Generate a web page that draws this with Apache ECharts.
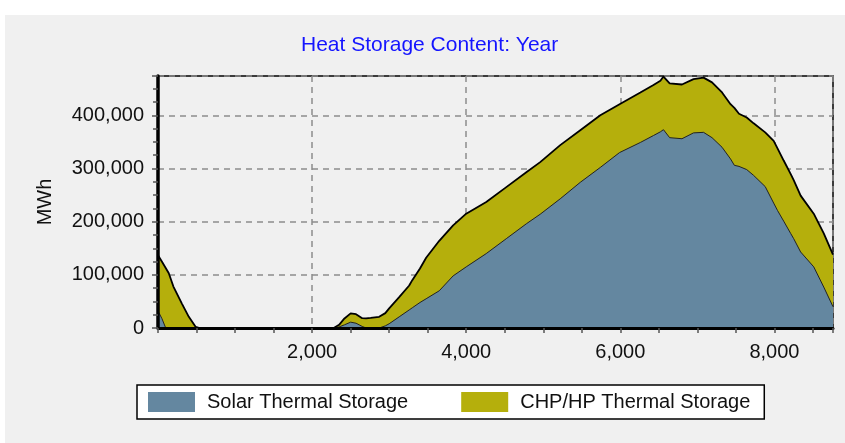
<!DOCTYPE html>
<html>
<head>
<meta charset="utf-8">
<script src="https://cdn.jsdelivr.net/npm/echarts@6/dist/echarts.min.js"></script>
<style>
    html, body { margin: 0; padding: 0; background: #fff; }
    #panel { position: absolute; left: 5px; top: 15px; width: 840px; height: 428px; background: #f0f0f0; }
    #chart { position: absolute; left: 0; top: 0; width: 845px; height: 443px; }
</style>
</head>
<body>
<div id="panel"></div>
<div id="chart"></div>
<script>
// hour of year
const hours = [0, 50, 100, 140, 200, 310, 400, 490, 540, 2280, 2350, 2420, 2500, 2570, 2650, 2700, 2760, 2870, 2950, 3000,
    3130, 3260, 3300, 3400, 3480, 3650, 3830, 4000, 4260, 4520, 4780, 4960, 5220, 5480, 5740, 5990, 6260, 6430, 6520, 6560,
    6640, 6800, 6950, 7080, 7190, 7320, 7430, 7480, 7540, 7640, 7730, 7880, 7990, 8040, 8120, 8210, 8250, 8340, 8510, 8640, 8760];

// MWh
const solar = [32000, 18000, 0, 0, 0, 0, 0, 0, 0, 0, 2000, 6000, 11000, 9000, 3000, 0, 0, 0, 4000, 8000,
    21000, 34000, 38000, 48000, 55000, 70000, 98000, 115000, 140000, 168000, 196000, 214000, 243000, 274000, 302000, 330000, 349000, 362000, 369000, 373000,
    358000, 356000, 367000, 368000, 358000, 340000, 318000, 306000, 304000, 298000, 287000, 266000, 235000, 221000, 201000, 178000, 168000, 143000, 115000, 77000, 40000];

const chp = [105000, 107000, 113000, 103000, 78000, 46000, 21000, 2000, 0, 0, 4000, 12000, 16500, 17000, 15500, 18000, 19000, 21000, 24000, 29000,
    37000, 46000, 52000, 64000, 77000, 94000, 95000, 100000, 97000, 97000, 97000, 98000, 101000, 98000, 98000, 91000, 94000, 95000, 96000, 100000,
    102000, 102000, 101000, 103000, 104000, 103000, 103000, 108000, 99000, 98000, 98000, 102000, 117000, 117000, 114000, 112000, 110000, 106000, 100000, 101000, 98000];

const seriesNames = ['Solar Thermal Storage', 'CHP/HP Thermal Storage'];

const textFont = '"Liberation Sans", Arial, sans-serif';
const tickStyle = { color: '#555', width: 1.5 };
const gridLine = { color: '#8c8c8c', width: 1.5, type: [6, 5] };

// chp sits on top of solar, so its outline is the sum of both
const solarPts = hours.map((h, i) => [h, solar[i]]);
const totalPts = hours.map((h, i) => [h, solar[i] + chp[i]]);

const chart = echarts.init(document.getElementById('chart'));

chart.setOption({
    animation: false,
    backgroundColor: 'transparent',
    title: {
        text: 'Heat Storage Content: Year',
        left: 301,
        top: 35,
        padding: 0,
        textStyle: { color: '#1414ff', fontSize: 21, fontWeight: 'normal', fontFamily: textFont }
    },
    grid: {
        left: 158,
        right: 12,
        top: 76,
        bottom: 115,
        show: true,
        backgroundColor: '#f0f0f0',
        borderColor: '#000',
        borderWidth: 1.5
    },
    legend: {
        data: seriesNames,
        left: 137,
        top: 385,
        icon: 'rect',
        itemWidth: 47,
        itemHeight: 20,
        itemGap: 53,
        padding: [7, 14, 7, 11],
        backgroundColor: '#fff',
        borderColor: '#000',
        borderWidth: 1.5,
        itemStyle: { borderWidth: 0 },
        textStyle: { fontSize: 20, color: '#111', fontFamily: textFont, padding: [0, 0, 0, 7] }
    },
    xAxis: [
        {
            type: 'value',
            min: 0,
            max: 8760,
            interval: 2000,
            z: 10,
            axisLine: { show: true, lineStyle: { color: '#000', width: 3 } },
            axisTick: { show: true, length: 5, lineStyle: tickStyle },
            minorTick: { show: true, splitNumber: 4, length: 5, lineStyle: tickStyle },
            splitLine: { show: false },
            axisLabel: {
                showMinLabel: false,
                showMaxLabel: false,
                margin: 14,
                fontSize: 20,
                color: '#111',
                fontFamily: textFont,
                formatter: (v) => v.toLocaleString('en-US')
            }
        },
        {
            type: 'value',
            min: 0,
            max: 8760,
            interval: 2000,
            z: 0,
            axisLine: { show: false },
            axisTick: { show: false },
            axisLabel: { show: false },
            splitLine: { show: true, lineStyle: gridLine }
        }
    ],
    yAxis: [
        {
            type: 'value',
            min: 0,
            max: 474000,
            interval: 100000,
            z: 10,
            name: 'MWh',
            nameLocation: 'middle',
            nameRotate: 90,
            nameGap: 103,
            nameTextStyle: { fontSize: 20, color: '#111', fontFamily: textFont },
            axisLine: { show: true, lineStyle: { color: '#000', width: 3.5 } },
            axisTick: { show: true, length: 6, lineStyle: tickStyle },
            minorTick: { show: true, splitNumber: 4, length: 5, lineStyle: tickStyle },
            splitLine: { show: false },
            axisLabel: {
                showMaxLabel: false,
                margin: 14,
                fontSize: 20,
                color: '#111',
                fontFamily: textFont,
                formatter: (v) => v.toLocaleString('en-US')
            }
        },
        {
            type: 'value',
            min: 0,
            max: 474000,
            interval: 100000,
            z: 0,
            axisLine: { show: false },
            axisTick: { show: false },
            axisLabel: { show: false },
            splitLine: { show: true, lineStyle: gridLine }
        }
    ],
    series: [
        {
            name: seriesNames[1],
            type: 'line',
            symbol: 'none',
            z: 2,
            data: totalPts,
            itemStyle: { color: '#b5af0c' },
            lineStyle: { color: '#000', width: 1.8 },
            areaStyle: { color: '#b5af0c', opacity: 1 }
        },
        {
            name: seriesNames[0],
            type: 'line',
            symbol: 'none',
            z: 3,
            data: solarPts,
            itemStyle: { color: '#6487a0' },
            lineStyle: { color: '#222', width: 1 },
            areaStyle: { color: '#6487a0', opacity: 1 }
        }
    ]
});
</script>
</body>
</html>
